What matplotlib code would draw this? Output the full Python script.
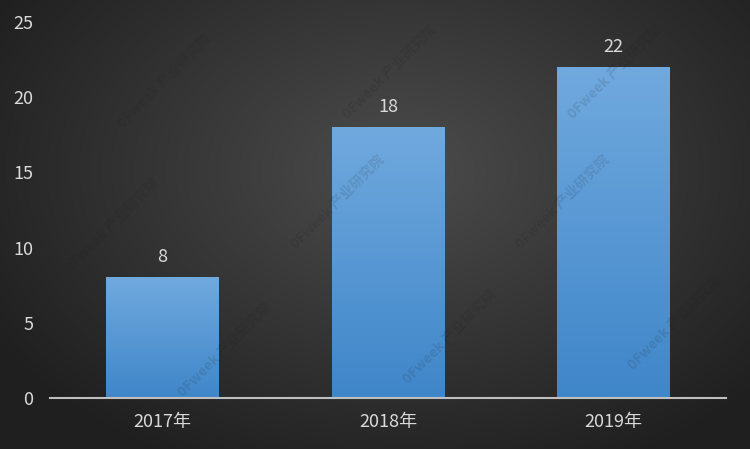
import numpy as np
import matplotlib
matplotlib.use("Agg")
import matplotlib.pyplot as plt
from matplotlib.colors import LinearSegmentedColormap

plt.rcParams['font.family'] = ['Noto Sans CJK SC', 'DejaVu Sans']

categories = ['2017年', '2018年', '2019年']
values = [8, 18, 22]
yticks = [0, 5, 10, 15, 20, 25]

W, H = 750, 449
fig = plt.figure(figsize=(W / 100, H / 100), dpi=100)

# radial gradient background
bg = fig.add_axes([0, 0, 1, 1], zorder=-10)
yy, xx = np.mgrid[0:H, 0:W]
r = np.sqrt(((xx - 400) / 480.0) ** 2 + ((yy - 170) / 330.0) ** 2)
r = np.clip(r, 0, 1)
inner = np.array([0x4c, 0x4c, 0x4c]) / 255
outer = np.array([0x1f, 0x1f, 0x1f]) / 255
img = inner[None, None, :] * (1 - r[..., None]) + outer[None, None, :] * r[..., None]
bg.imshow(img, aspect='auto', extent=[0, 1, 0, 1], origin='upper')
bg.set_xlim(0, 1)
bg.set_ylim(0, 1)
bg.axis('off')

ax = fig.add_axes([50 / W, 1 - 398 / H, 676 / W, 376 / H])
ax.patch.set_alpha(0)
x = np.arange(len(categories))
bars = ax.bar(x, values, width=0.5, color='none', edgecolor='none', zorder=2)

cmap = LinearSegmentedColormap.from_list('bluegrad', ['#3f86c9', '#70a9de'])
grad = np.linspace(0, 1, 256).reshape(-1, 1)
for b, v in zip(bars, values):
    x0 = b.get_x()
    ax.imshow(grad, cmap=cmap, aspect='auto', origin='lower',
              extent=[x0, x0 + b.get_width(), 0, v], zorder=2)
    ax.text(b.get_x() + b.get_width() / 2, v + 0.75, str(v), ha='center', va='bottom',
            fontsize=13, color='#d9d9d9')

ax.set_xlim(-0.5, 2.5)
ax.set_ylim(0, 25)
ax.set_xticks(x)
ax.set_xticklabels(categories, fontsize=13, color='#d9d9d9')
ax.set_yticks(yticks)
ax.set_yticklabels([str(t) for t in yticks], fontsize=13, color='#d9d9d9')
ax.tick_params(axis='both', length=0)
ax.tick_params(axis='y', pad=12)
ax.tick_params(axis='x', pad=11)
for s in ['top', 'right', 'left']:
    ax.spines[s].set_visible(False)
ax.spines['bottom'].set_color('#bfbfbf')
ax.spines['bottom'].set_linewidth(1.5)
ax.spines['bottom'].set_zorder(3)

# faint watermark overlay
wm = fig.add_axes([0, 0, 1, 1], zorder=10)
wm.patch.set_alpha(0)
wm.set_xlim(0, 1)
wm.set_ylim(0, 1)
wm.axis('off')
for (wx, wy) in [(0.22, 0.82), (0.52, 0.84), (0.82, 0.84),
                 (0.15, 0.50), (0.45, 0.55), (0.75, 0.55),
                 (0.30, 0.22), (0.60, 0.25), (0.90, 0.28)]:
    wm.text(wx, wy, '0Fweek 产业研究院', rotation=45, ha='center', va='center',
            fontsize=10, color='#1a1a1a', alpha=0.12, fontweight='bold')

fig.savefig('out.png', dpi=100)
